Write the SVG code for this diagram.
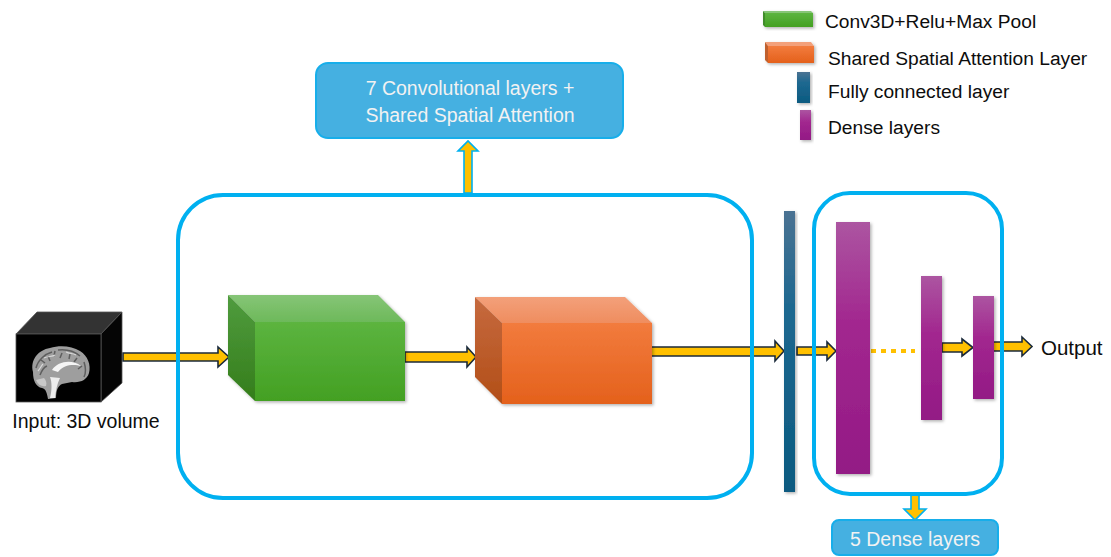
<svg xmlns="http://www.w3.org/2000/svg" width="1111" height="557" viewBox="0 0 1111 557">
<style>
  text { font-family: "Liberation Sans", Arial, sans-serif; fill: #0D0D0D; }
  .lbl { font-size: 19.5px; fill: #F2F2F2; text-anchor: middle; }
  .leg { font-size: 19.2px; }
  .container { fill: none; stroke: #00B0F0; stroke-width: 4; }
  .tag { fill: #45B0E1; stroke: #17AEEA; stroke-width: 2; }
  .arrow { fill: #FFC000; stroke: #1B2A3A; stroke-width: 1.6; stroke-linejoin: miter; }
  .varrow { fill: #FFC000; stroke: #00B0F0; stroke-width: 1.6; }
</style>
<defs>
  <linearGradient id="gFront" x1="0" y1="0" x2="0" y2="1"><stop offset="0" stop-color="#5CB43F"/><stop offset="1" stop-color="#43A023"/></linearGradient>
  <linearGradient id="gTop" x1="0" y1="0" x2="0" y2="1"><stop offset="0" stop-color="#86C577"/><stop offset="1" stop-color="#6DB95A"/></linearGradient>
  <linearGradient id="gSide" x1="0" y1="0" x2="0" y2="1"><stop offset="0" stop-color="#509C3E"/><stop offset="1" stop-color="#347D1B"/></linearGradient>
  <linearGradient id="oFront" x1="0" y1="0" x2="0" y2="1"><stop offset="0" stop-color="#F27B3D"/><stop offset="1" stop-color="#E4611C"/></linearGradient>
  <linearGradient id="oTop" x1="0" y1="0" x2="0" y2="1"><stop offset="0" stop-color="#F3A07A"/><stop offset="1" stop-color="#EF8D5F"/></linearGradient>
  <linearGradient id="oSide" x1="0" y1="0" x2="0" y2="1"><stop offset="0" stop-color="#C66A3F"/><stop offset="1" stop-color="#B24E17"/></linearGradient>
  <linearGradient id="fc" x1="0" y1="0" x2="0" y2="1"><stop offset="0" stop-color="#4A7292"/><stop offset="0.35" stop-color="#1D6890"/><stop offset="1" stop-color="#0B5A80"/></linearGradient>
  <linearGradient id="dn" x1="0" y1="0" x2="0" y2="1"><stop offset="0" stop-color="#AC55A1"/><stop offset="0.4" stop-color="#A2278F"/><stop offset="1" stop-color="#931A85"/></linearGradient>
  <filter id="sh" x="-20%" y="-20%" width="140%" height="140%">
    <feDropShadow dx="1.5" dy="1.5" stdDeviation="1.5" flood-color="#000" flood-opacity="0.3"/>
  </filter>
</defs>
<rect width="1111" height="557" fill="#FFFFFF"/>

<g id="connectors">
  <polygon class="arrow" points="123,353 218,353 218,347 229,357 218,367 218,361 123,361"/>
  <polygon class="arrow" points="405,352 467,352 467,347 476,357 467,367 467,362 405,362"/>
  <polygon class="arrow" points="650,347 775,347 775,341 784,351 775,361 775,356 650,356"/>
  <polygon class="arrow" points="797,347 827,347 827,342 836,351 827,360 827,355 797,355"/>
  <line x1="871" y1="351" x2="915" y2="351" stroke="#FFC000" stroke-width="4" stroke-dasharray="5 5"/>
  <polygon class="arrow" points="942,343 962,343 962,339 973,347.5 962,356 962,352 942,352"/>
  <polygon class="arrow" points="992,342 1022,342 1022,337 1032,346.5 1022,356 1022,351 992,351"/>
  <polygon class="varrow" points="464,193 464,151 458,151 468,141 478,151 472,151 472,193"/>
  <polygon class="varrow" points="911,495 911,509 904,509 915,520 926,509 919,509 919,495"/>
</g>

<g id="input">
  <polygon points="16,334 37,312 122,312 101,334" fill="#333333" stroke="#555" stroke-width="0.8"/>
  <polygon points="101,334 122,312 122,383 101,402" fill="#050505" stroke="#555" stroke-width="0.8"/>
  <rect x="16" y="334" width="85" height="68" fill="#000000" stroke="#555" stroke-width="0.8"/>
  <path d="M33,372 C30,360 38,350 50,348 C60,345 72,346 80,351 C88,356 91,365 89,373 C87,380 80,383 72,382 L62,384 C58,386 56,390 56,398 L48,399 C47,393 46,389 42,388 C36,387 33,381 33,372 Z" fill="#9E9E9E"/>
  <path d="M36,368 C38,360 45,354 52,352 M58,350 C66,349 74,351 80,356 M84,362 C86,368 86,373 84,377 M40,375 C42,370 44,367 47,366 M62,353 L60,358 M70,354 L69,359 M77,358 L74,362 M48,356 L50,361 M41,360 L45,363 M55,351 L54,356 M82,366 L78,369" fill="none" stroke="#5E5E5E" stroke-width="1.5"/>
  <path d="M44,358 C48,356 52,357 55,355 M66,352 C70,354 73,353 76,355 M38,371 C40,369 41,366 43,364" fill="none" stroke="#D8D8D8" stroke-width="1.2"/>
  <path d="M52,370 C58,361 72,359 81,366 C74,364 64,364 58,372 Z" fill="#F5F5F5"/>
  <path d="M50,377 C52,382 52,390 50,398 L55,398 C56,390 57,384 60,378 Z" fill="#EDEDED"/>
  <path d="M36,380 C38,385 42,387 46,386 C47,383 46,380 44,378 Z" fill="#C8C8C8"/>
  <text x="86" y="428" style="font-size:19.5px" text-anchor="middle">Input: 3D volume</text>
</g>

<g id="conv-block">
  <rect class="container" x="178" y="195" width="574" height="303" rx="45" ry="45"/>
</g>

<g id="conv3d" filter="url(#sh)">
  <polygon points="228,295 378,295 405,322 255,322" fill="url(#gTop)"/>
  <polygon points="228,295 255,322 255,401 228,375" fill="url(#gSide)"/>
  <rect x="255" y="322" width="150" height="79" fill="url(#gFront)"/>
</g>

<g id="attention" filter="url(#sh)">
  <polygon points="475,297 625,297 652,323 502,323" fill="url(#oTop)"/>
  <polygon points="475,297 502,323 502,404 475,377" fill="url(#oSide)"/>
  <rect x="502" y="323" width="150" height="81" fill="url(#oFront)"/>
</g>

<g id="conv-label">
  <rect class="tag" x="316" y="63" width="307" height="75" rx="12" ry="12"/>
  <text class="lbl" x="470" y="95">7 Convolutional layers +</text>
  <text class="lbl" x="470" y="122">Shared Spatial Attention</text>
</g>

<g id="fully-connected">
  <rect x="784" y="211" width="11" height="281" fill="url(#fc)" filter="url(#sh)"/>
</g>

<g id="dense-block">
  <rect class="container" x="814" y="193" width="188" height="301" rx="36" ry="36"/>
</g>

<g id="dense1"><rect x="836" y="222" width="34" height="252" fill="url(#dn)" filter="url(#sh)"/></g>
<g id="dense2"><rect x="921" y="276" width="21" height="144" fill="url(#dn)" filter="url(#sh)"/></g>
<g id="dense3"><rect x="973" y="296" width="21" height="103" fill="url(#dn)" filter="url(#sh)"/></g>

<g id="dense-label">
  <rect class="tag" x="832" y="520" width="166" height="35" rx="7" ry="7"/>
  <text class="lbl" x="915" y="546" style="font-size:19.5px">5 Dense layers</text>
</g>

<g id="output">
  <text x="1041" y="355" style="font-size:20.5px">Output</text>
</g>

<g id="legend">
  <g filter="url(#sh)">
    <polygon points="763,11 811,11 813,13 765,13" fill="#86C577"/>
    <polygon points="763,11 765,13 765,27 763,25" fill="#3F8C2C"/>
    <rect x="765" y="13" width="48" height="14" fill="url(#gFront)"/>
  </g>
  <text class="leg" x="825" y="28">Conv3D+Relu+Max Pool</text>
  <g filter="url(#sh)">
    <polygon points="765,42 811,42 814,46 768,46" fill="#F3A07A"/>
    <polygon points="765,42 768,46 768,63 765,60" fill="#C0602F"/>
    <rect x="768" y="46" width="46" height="17" fill="url(#oFront)"/>
  </g>
  <text class="leg" x="828" y="65">Shared Spatial Attention Layer</text>
  <rect x="797" y="72" width="13" height="31" fill="url(#fc)" filter="url(#sh)"/>
  <text class="leg" x="828" y="98">Fully connected layer</text>
  <rect x="800" y="110" width="11" height="30" fill="url(#dn)" filter="url(#sh)"/>
  <text class="leg" x="828" y="134">Dense layers</text>
</g>
</svg>
